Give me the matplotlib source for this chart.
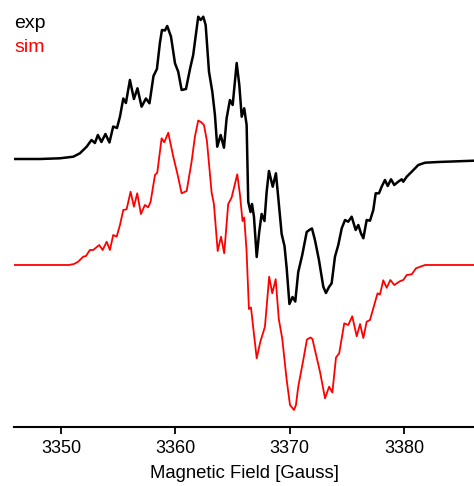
import matplotlib
matplotlib.use("Agg")
import matplotlib.pyplot as plt

plt.rcParams['font.family'] = ['Liberation Sans', 'DejaVu Sans']

# experimental spectrum: field (G) and intensity (arb. units, baseline = 0)
exp_field = [3345.89, 3348.16, 3349.91, 3351.08, 3351.66, 3352.25, 3352.67, 3352.97, 3353.23,
             3353.54, 3353.89, 3354.24, 3354.57, 3354.90, 3355.16, 3355.45, 3355.68, 3356.03,
             3356.38, 3356.69, 3357.05, 3357.43, 3357.74, 3358.09, 3358.39, 3358.65, 3358.83,
             3359.09, 3359.29, 3359.62, 3359.97, 3360.25, 3360.55, 3360.93, 3361.28, 3361.56,
             3362.00, 3362.21, 3362.44, 3362.65, 3362.94, 3363.23, 3363.46, 3363.66, 3363.96,
             3364.25, 3364.48, 3364.77, 3365.01, 3365.36, 3365.59, 3365.80, 3366.02, 3366.23,
             3366.37, 3366.57, 3366.70, 3366.87, 3367.11, 3367.33, 3367.54, 3367.79, 3367.98,
             3368.18, 3368.51, 3368.79, 3369.00, 3369.29, 3369.54, 3369.73, 3369.97, 3370.24,
             3370.48, 3370.74, 3371.09, 3371.48, 3371.77, 3371.94, 3372.20, 3372.55, 3372.93,
             3373.16, 3373.43, 3373.66, 3373.95, 3374.24, 3374.54, 3374.83, 3375.11, 3375.41,
             3375.76, 3375.99, 3376.22, 3376.43, 3376.72, 3377.01, 3377.30, 3377.51, 3377.80,
             3378.03, 3378.32, 3378.56, 3378.85, 3379.13, 3379.48, 3379.78, 3379.92, 3380.22,
             3380.66, 3381.23, 3381.82, 3382.98, 3386.10]
exp_int = [0, 0, 0.7, 2.3, 5.7, 12.3, 19, 16, 24,
           17, 25, 16.5, 32.5, 31, 42.3, 60.5, 56, 79,
           60, 70.7, 52.3, 60.5, 55.7, 83, 90, 116, 129,
           128.5, 133, 122.3, 95.7, 87.3, 69, 70, 90, 104,
           142.3, 139, 142.3, 134, 87.3, 67.3, 44, 12.3, 24,
           11.3, 40.7, 59, 54, 96, 74, 42.3, 50.7, 34,
           -42.7, -53, -45, -57.7, -98, -73, -55, -62, -32.7,
           -12, -27.7, -14.3, -39.3, -75, -87, -109.3, -145, -138,
           -142.5, -113, -96, -73, -70.5, -69.5, -81, -101, -127.7,
           -134, -128, -124.3, -97.7, -86, -69.3, -61, -62.7, -57.7,
           -71, -66, -74.3, -79.3, -61, -61.7, -51, -34.3, -34.3,
           -27.7, -21, -27, -20.3, -26, -22.7, -20.3, -22.7, -17.7,
           -12.7, -6, -3.7, -3, -1.7]

# simulated spectrum
sim_field = [3345.89, 3350.70, 3351.14, 3351.51, 3351.95, 3352.19, 3352.53, 3352.82, 3353.35,
             3353.65, 3354.00, 3354.28, 3354.57, 3354.87, 3355.16, 3355.45, 3355.74, 3356.09,
             3356.38, 3356.67, 3356.99, 3357.34, 3357.63, 3357.84, 3358.22, 3358.42, 3358.80,
             3359.03, 3359.38, 3359.82, 3360.17, 3360.55, 3360.99, 3361.42, 3361.71, 3362.00,
             3362.24, 3362.50, 3362.76, 3363.17, 3363.37, 3363.70, 3363.99, 3364.27, 3364.62,
             3364.92, 3365.41, 3365.65, 3365.87, 3366.02, 3366.22, 3366.43, 3366.61, 3366.81,
             3367.11, 3367.42, 3367.83, 3368.20, 3368.47, 3368.77, 3369.04, 3369.34, 3369.73,
             3370.02, 3370.37, 3370.54, 3370.74, 3371.18, 3371.50, 3371.81, 3371.98, 3372.20,
             3372.64, 3373.08, 3373.44, 3373.72, 3374.04, 3374.32, 3374.76, 3375.11, 3375.46,
             3375.85, 3376.14, 3376.43, 3376.72, 3377.01, 3377.30, 3377.67, 3377.88, 3378.17,
             3378.47, 3378.79, 3379.13, 3379.63, 3379.92, 3380.22, 3380.66, 3381.03, 3381.82,
             3386.10]
sim_int = [0, 0, 1, 3.3, 8.3, 9, 15, 15, 20,
           15, 23.3, 15, 30, 28.3, 40, 55, 55.7, 73.3,
           58.3, 71.7, 51, 60, 57.7, 63.3, 90, 92.3, 126.7,
           122.7, 132.3, 108.3, 91.7, 71.7, 74, 103.3, 128.3, 144.5,
           143, 140, 124, 72.5, 61, 14, 28.3, 11.7, 61,
           67.5, 90.7, 70, 44, 47.5, 15, -44, -42.5, -63,
           -93.3, -77, -61.7, -11.7, -28.3, -14.2, -54, -73.5, -115,
           -140, -145, -140, -121.7, -95, -74.5, -72.5, -74, -85,
           -106.7, -133.3, -121.7, -127.5, -92.5, -88.3, -58.3, -60, -51.3,
           -71.3, -59, -73, -56.7, -55, -43.3, -28.3, -29.6, -15.3,
           -22.8, -15, -20, -16.2, -15, -10, -9.3, -3.3, 0,
           0]

sim_offset = -106  # vertical shift of the simulated trace

fig = plt.figure(figsize=(4.74, 4.86), dpi=100)
ax = fig.add_axes([14 / 474, 59 / 486, 460 / 474, 427 / 486])

ax.plot(exp_field, exp_int, color='black', lw=1.8)
ax.plot(sim_field, [v + sim_offset for v in sim_int], color='red', lw=1.3)

ax.set_xlim(3345.9, 3386.1)
ax.set_ylim(-268, 159)
ax.set_xticks([3350, 3360, 3370, 3380])
ax.tick_params(axis='x', labelsize=13, length=5, width=1.3, pad=4)
ax.set_yticks([])
for s in ['left', 'top', 'right']:
    ax.spines[s].set_visible(False)
ax.spines['bottom'].set_linewidth(1.5)
ax.set_xlabel('Magnetic Field [Gauss]', fontsize=13.3, labelpad=6)

fig.text(14 / 474, 1 - 24 / 486, 'exp', color='black', fontsize=14, va='center')
fig.text(14 / 474, 1 - 47 / 486, 'sim', color='red', fontsize=14, va='center')

fig.savefig('out.png', dpi=100)
